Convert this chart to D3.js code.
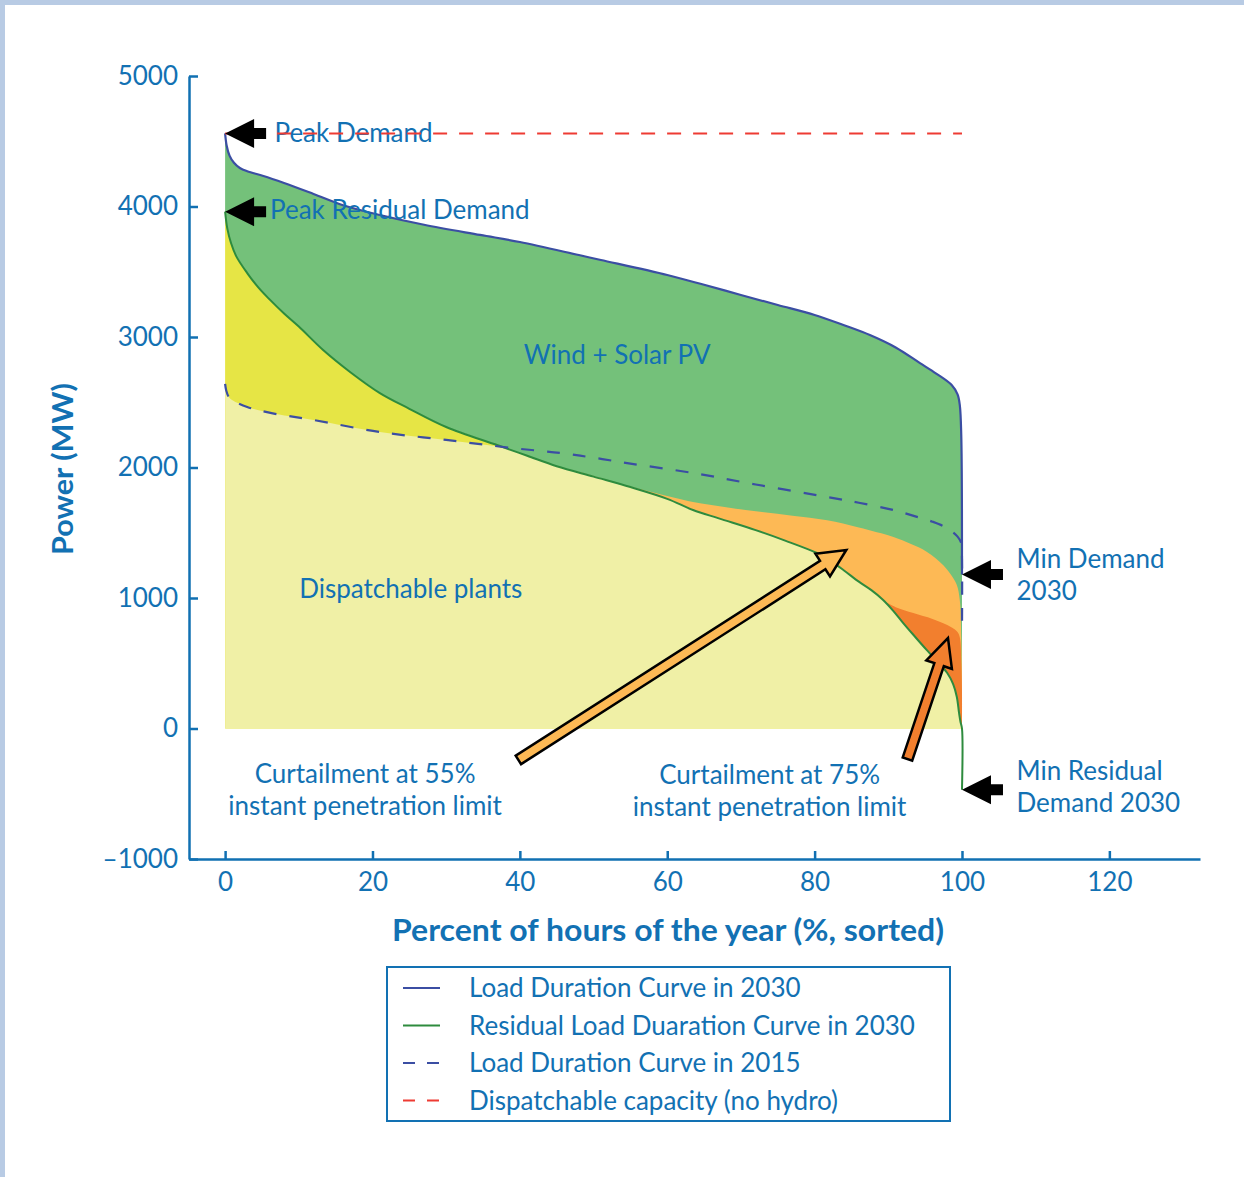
<!DOCTYPE html>
<html><head><meta charset="utf-8">
<script src="https://cdn.jsdelivr.net/npm/d3@7"></script>
<style>body{margin:0;background:#fff}svg{display:block}</style>
</head><body><svg id="c" width="1244" height="1177"></svg>
<script>
// ---------- data ----------
const xTicks = [0, 20, 40, 60, 80, 100, 120];
const yTicks = [-1000, 0, 1000, 2000, 3000, 4000, 5000];
const yTickLabels = ["\u20131000", "0", "1000", "2000", "3000", "4000", "5000"];

const load2030 = [[0,4560],[0.2,4470],[0.6,4390],[1.2,4335],[2,4295],[3,4270],[5.2,4234],[8,4180],[12,4096],[16,4010],[21,3935],[27,3860],[34.6,3782],[40,3728],[48,3628],[51,3590],[60,3475],[65,3400],[70,3322],[75,3245],[80,3169],[84,3090],[87.5,3015],[91,2920],[94.3,2800],[96.5,2720],[98.6,2632],[99.4,2560],[99.7,2480],[99.9,2250],[100,1180]];
const residual2030 = [[0,3960],[0.3,3830],[0.8,3720],[1.5,3620],[3,3490],[4.5,3380],[6,3290],[8,3180],[10,3080],[13.3,2900],[17,2730],[21,2570],[25,2450],[30,2310],[37,2170],[41,2090],[45,2010],[50,1930],[55,1850],[60,1760],[63.5,1674],[67,1610],[72,1520],[76,1440],[80.3,1345],[82,1290],[83.9,1215],[86,1125],[87.7,1060],[89.3,985],[90.7,900],[92,810],[93.6,705],[95.2,602],[97,490],[98,425],[98.8,340],[99.3,241],[99.6,120],[99.8,50],[100,0],[100,-470]];
const load2015 = [[0,2640],[0.15,2590],[0.5,2540],[1,2515],[3,2464],[6,2420],[12,2364],[21,2272],[30,2211],[39,2149],[45.5,2111],[50,2075],[55,2030],[63.5,1958],[72,1870],[81.7,1774],[86,1730],[90.7,1674],[94,1620],[96,1585],[98,1535],[99.4,1470],[99.9,1420],[100,1300],[100,750]];
const curtail55 = [[47,1980],[50,1935],[54.5,1862],[58,1810],[63.5,1735],[68,1695],[72.6,1660],[77,1630],[81.7,1595],[86,1540],[90.7,1467],[93,1415],[95.2,1355],[97.5,1250],[98.6,1170],[99.3,1100],[99.7,985],[99.9,700],[100,300],[100,0]];
const curtail75 = [[89.5,975],[91,930],[93.4,885],[96,840],[98,793],[99.3,745],[99.7,700],[99.9,500],[100,280],[100,0]];
const dispatchCapacity = [[0,4560],[100,4560]];

// annotation markers (data units)
const blackArrows = [
  {x:0, v:4560},
  {x:0, v:3960},
  {x:100, v:1180},
  {x:100, v:-470}
];
const orangeArrows = [
  {from:[39.8,-241], to:[84.3,1368], fill:"#fdb955"},
  {from:[92.6,-234], to:[98.1,693], fill:"#f27f2e"}
];
const labels = [
  {t:"Peak Demand", x:6.7, v:4563, a:"start"},
  {t:"Peak Residual Demand", x:6.1, v:3973, a:"start"},
  {t:"Wind + Solar PV", x:53.2, v:2862, a:"middle"},
  {t:"Dispatchable plants", x:25.2, v:1069, a:"middle"},
  {t:"Curtailment at 55%", x:19.0, v:-349, a:"middle"},
  {t:"instant penetration limit", x:19.0, v:-594, a:"middle"},
  {t:"Curtailment at 75%", x:73.9, v:-356, a:"middle"},
  {t:"instant penetration limit", x:73.9, v:-602, a:"middle"},
  {t:"Min Demand", x:107.4, v:1299, a:"start"},
  {t:"2030", x:107.4, v:1054, a:"start"},
  {t:"Min Residual", x:107.4, v:-326, a:"start"},
  {t:"Demand 2030", x:107.4, v:-571, a:"start"}
];
const legendItems = [
  {t:"Load Duration Curve in 2030", c:"#3b4ea3", dash:null},
  {t:"Residual Load Duaration Curve in 2030", c:"#2e8b3e", dash:null},
  {t:"Load Duration Curve in 2015", c:"#3b4ea3", dash:"12,12"},
  {t:"Dispatchable capacity (no hydro)", c:"#ee3b33", dash:"12,12"}
];

// ---------- drawing ----------
const TXT = "#1271b3", AX = "#1170b2";
const FONT = "Lato, 'Open Sans', sans-serif";
const svg = d3.select("#c");
svg.append("rect").attr("width",1244).attr("height",1177).attr("fill","#fff");
svg.append("rect").attr("x",0).attr("y",0).attr("width",1244).attr("height",5).attr("fill","#b8cbe4");
svg.append("rect").attr("x",0).attr("y",0).attr("width",5).attr("height",1177).attr("fill","#b8cbe4");

const x = d3.scaleLinear().domain([-4.9, 132.3]).range([189, 1200]);
const y = d3.scaleLinear().domain([-1000, 5000]).range([859, 76]);
const line = d3.line().x(d => x(d[0])).y(d => y(d[1])).curve(d3.curveCatmullRom.alpha(0.5));
const lineLin = d3.line().x(d => x(d[0])).y(d => y(d[1]));
const noDrop = arr => arr.filter((d,i) => !(i === arr.length-1 && d[1] < 0));
const between = (upper, lower) => {
  const a = upper[0][0], b = upper[upper.length-1][0];
  const low = noDrop(lower).filter(d => d[0] >= a && d[0] <= b);
  return line(upper) + lineLin(low.slice().reverse()).replace(/^M/, "L") + "Z";
};
const underCurve = arr => line(arr) + lineLin([[100,0],[0,0]]).replace(/^M/, "L") + "Z";

const defs = svg.append("defs");
defs.append("clipPath").attr("id","underRes").append("path")
  .attr("d", underCurve(noDrop(residual2030)));

// bright yellow: area under residual
svg.append("path").attr("d", underCurve(noDrop(residual2030))).attr("fill","#e6e545");
// light yellow: under 2015 curve, clipped to under residual
svg.append("path").attr("clip-path","url(#underRes)")
  .attr("d", underCurve(load2015.filter(d => d[1] > 1000)))
  .attr("fill","#f0f0a6");
// green: between load 2030 and residual
svg.append("path").attr("d", between(load2030, residual2030)).attr("fill","#74c17a");
// curtailment areas
svg.append("path").attr("d", between(curtail55, residual2030)).attr("fill","#fdb955");
svg.append("path").attr("d", between(curtail75, residual2030)).attr("fill","#f27f2e");

// lines
svg.append("path").attr("d", line(residual2030)).attr("fill","none").attr("stroke","#2e8b3e").attr("stroke-width",2);
svg.append("path").attr("d", line(load2015)).attr("fill","none").attr("stroke","#3b4ea3").attr("stroke-width",2.2).attr("stroke-dasharray","13,13");
svg.append("path").attr("d", line(load2030)).attr("fill","none").attr("stroke","#3b4ea3").attr("stroke-width",2.2);

// axes
const gx = svg.append("g").attr("transform",`translate(0,${y(-1000)})`)
  .call(d3.axisBottom(x).tickValues(xTicks).tickSizeInner(-8).tickSizeOuter(0).tickPadding(14));
const gy = svg.append("g").attr("transform",`translate(${x(-4.9)},0)`)
  .call(d3.axisLeft(y).tickValues(yTicks).tickSizeInner(-9).tickSizeOuter(0).tickPadding(11)
    .tickFormat((d,i) => yTickLabels[i]));
[gx, gy].forEach(g => {
  g.select(".domain").attr("stroke",AX).attr("stroke-width",2.5);
  g.selectAll(".tick line").attr("stroke",AX).attr("stroke-width",2.5);
  g.selectAll(".tick text").attr("fill",TXT).attr("font-family",FONT).attr("font-size",26);
});

// axis titles
svg.append("text").attr("x",668).attr("y",941).attr("text-anchor","middle")
  .attr("font-family",FONT).attr("font-weight","bold").attr("font-size",30).attr("fill",TXT)
  .attr("textLength",552).attr("lengthAdjust","spacingAndGlyphs")
  .text("Percent of hours of the year (%, sorted)");
svg.append("text").attr("transform","translate(73,469) rotate(-90)").attr("text-anchor","middle")
  .attr("font-family",FONT).attr("font-weight","bold").attr("font-size",29).attr("fill",TXT)
  .attr("textLength",172).attr("lengthAdjust","spacingAndGlyphs")
  .text("Power (MW)");

// labels
svg.selectAll("text.lab").data(labels).join("text").attr("class","lab")
  .attr("x", d => x(d.x)).attr("y", d => y(d.v)).attr("dy","0.36em")
  .attr("text-anchor", d => d.a).attr("font-family",FONT).attr("font-size",26).attr("fill",TXT)
  .text(d => d.t);

// red dispatchable capacity line (over text)
svg.append("path").attr("d", lineLin(dispatchCapacity)).attr("fill","none").attr("stroke","#ee3b33").attr("stroke-width",2).attr("stroke-dasharray","14,12");

// black block arrows
svg.selectAll("path.barrow").data(blackArrows).join("path").attr("class","barrow")
  .attr("d", d => {
    const tx = x(d.x), ty = y(d.v);
    const pts = [[tx,ty],[tx+29,ty-14.5],[tx+29,ty-5.5],[tx+41,ty-5.5],[tx+41,ty+5.5],[tx+29,ty+5.5],[tx+29,ty+14.5]];
    return "M" + pts.map(p=>p.join(",")).join("L") + "Z";
  }).attr("fill","#000");

// orange arrows
svg.selectAll("path.oarrow").data(orangeArrows).join("path").attr("class","oarrow")
  .attr("d", d => {
    const x0 = x(d.from[0]), y0 = y(d.from[1]), x1 = x(d.to[0]), y1 = y(d.to[1]);
    const dx = x1-x0, dy = y1-y0, L = Math.hypot(dx,dy), ux = dx/L, uy = dy/L, nx = -uy, ny = ux;
    const w = 5, H = 13.5, hl = 28;
    const bx = x1 - ux*hl, by = y1 - uy*hl;
    const pts = [[x0+nx*w,y0+ny*w],[bx+nx*w,by+ny*w],[bx+nx*H,by+ny*H],[x1,y1],[bx-nx*H,by-ny*H],[bx-nx*w,by-ny*w],[x0-nx*w,y0-ny*w]];
    return "M" + pts.map(p=>p.join(",")).join("L") + "Z";
  }).attr("fill", d => d.fill).attr("stroke","#000").attr("stroke-width",2.5).attr("stroke-linejoin","miter");

// legend
const lg = svg.append("g");
lg.append("rect").attr("x",387).attr("y",967).attr("width",563).attr("height",154)
  .attr("fill","#fff").attr("stroke",TXT).attr("stroke-width",2);
legendItems.forEach((it,i) => {
  const cy = 988 + i*37.5;
  lg.append("line").attr("x1",403).attr("x2",440).attr("y1",cy).attr("y2",cy)
    .attr("stroke",it.c).attr("stroke-width",2.2).attr("stroke-dasharray",it.dash);
  lg.append("text").attr("x",469).attr("y",cy).attr("dy","0.36em").attr("font-family",FONT)
    .attr("font-size",26).attr("fill",TXT).text(it.t);
});
</script></body></html>
